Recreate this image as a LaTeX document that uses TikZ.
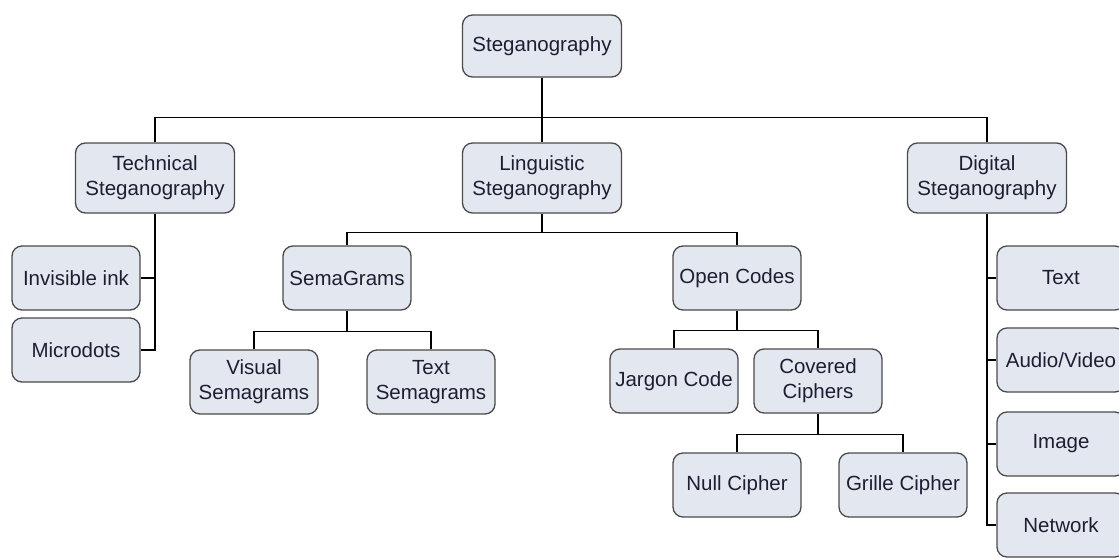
\documentclass[tikz,border=0pt]{standalone}
\usepackage{fontspec}
\setmainfont{Liberation Sans}
\definecolor{boxfill}{HTML}{E3E8F0}
\definecolor{boxline}{HTML}{4A4A4A}
\definecolor{boxtext}{HTML}{1E1E32}
\begin{document}
\begin{tikzpicture}[x=1pt,y=-1pt,
  box/.style={draw=boxline, line width=1.3pt, fill=boxfill, rounded corners=10pt,
    text=boxtext, align=center, inner sep=0pt,
    font=\fontsize{20.5}{25}\selectfont},
  topbox/.style={box, minimum width=159pt, minimum height=70pt},
  leaf/.style={box, minimum width=128pt, minimum height=64pt},
  link/.style={line width=1.5pt, black}]
\useasboundingbox (0,0) rectangle (1119,557);

% nodes
\node[topbox, minimum height=62pt] (root) at (542,46) {Steganography};
\node[topbox] (tech) at (155,178) {Technical\\Steganography};
\node[topbox] (ling) at (542,178) {Linguistic\\Steganography};
\node[topbox] (digi) at (987,178) {Digital\\Steganography};

\node[leaf] (ink) at (76,278) {Invisible ink};
\node[leaf] (micro) at (76,350) {Microdots};

\node[leaf] (sema) at (347,278) {SemaGrams};
\node[leaf] (open) at (737,278) {Open Codes};

\node[leaf] (vis) at (254,382) {Visual\\Semagrams};
\node[leaf] (txs) at (431,382) {Text\\Semagrams};

\node[leaf] (jar) at (674,381) {Jargon Code};
\node[leaf] (cov) at (818,381) {Covered\\Ciphers};

\node[leaf] (null) at (737,485) {Null Cipher};
\node[leaf] (grille) at (903,485) {Grille Cipher};

\node[leaf] (dtext) at (1061,278) {Text};
\node[leaf] (daud) at (1061,360) {Audio/Video};
\node[leaf] (dimg) at (1061,444) {Image};
\node[leaf] (dnet) at (1061,525) {Network};

% root to second level
\draw[link] (root.south) -- ++(0,40) -| (tech.north);
\draw[link] (root.south) -- (ling.north);
\draw[link] (root.south) -- ++(0,40) -| (digi.north);

% technical branch
\coordinate (tj) at (tech.south |- micro.east);
\draw[link] (tech.south) -- (tj) -- (micro.east);
\draw[link] (ink.east) -- (ink.east -| tech.south);

% linguistic branch
\draw[link] (ling.south) -- ++(0,19) -| (sema.north);
\draw[link] (ling.south) -- ++(0,19) -| (open.north);
\draw[link] (sema.south) -- ++(0,21) -| (vis.north);
\draw[link] (sema.south) -- ++(0,21) -| (txs.north);
\draw[link] (open.south) -- ++(0,20) -| (jar.north);
\draw[link] (open.south) -- ++(0,20) -| (cov.north);
\draw[link] (cov.south) -- ++(0,21) -| (null.north);
\draw[link] (cov.south) -- ++(0,21) -| (grille.north);

% digital branch
\coordinate (dj) at (digi.south |- dnet.west);
\draw[link] (digi.south) -- (dj) -- (dnet.west);
\draw[link] (dtext.west) -- (dtext.west -| digi.south);
\draw[link] (daud.west) -- (daud.west -| digi.south);
\draw[link] (dimg.west) -- (dimg.west -| digi.south);
\end{tikzpicture}
\end{document}
